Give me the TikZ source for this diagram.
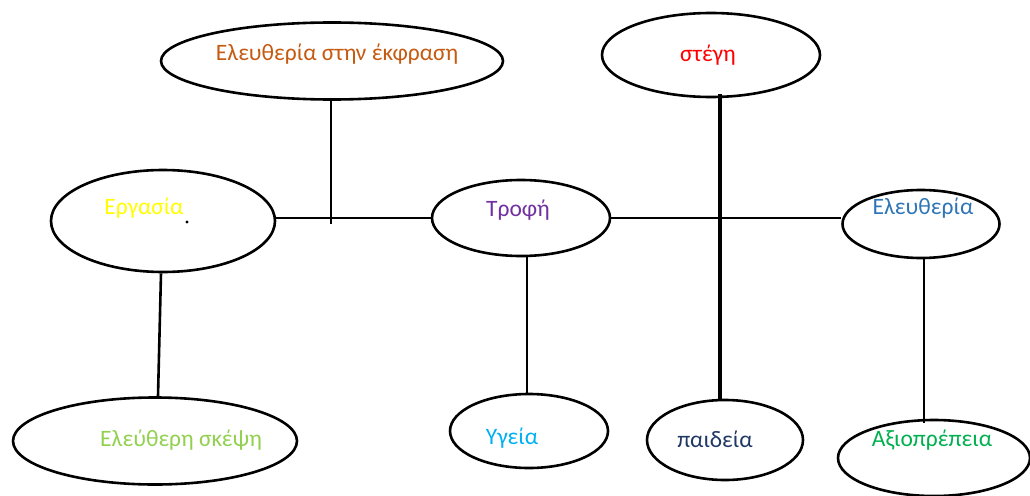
\documentclass[tikz,border=0pt]{standalone}
\usepackage{fontspec}
\setmainfont{Carlito}
\usetikzlibrary{shapes.geometric}
\definecolor{cExpr}{HTML}{C55A11}
\definecolor{cErg}{HTML}{FFFF00}
\definecolor{cTrofi}{HTML}{7030A0}
\definecolor{cStegi}{HTML}{FF0000}
\definecolor{cEleft}{HTML}{2E75B6}
\definecolor{cSkepsi}{HTML}{92D050}
\definecolor{cYgeia}{HTML}{00B0F0}
\definecolor{cPaid}{HTML}{203864}
\definecolor{cAxio}{HTML}{00B050}
\tikzset{
  oval/.style={ellipse, draw=black, line width=2.6pt, inner sep=0pt},
  lbl/.style={inner sep=0pt, font=\fontsize{23.5}{28}\selectfont},
  link/.style={draw=black, line width=2.6pt},
  boldlink/.style={draw=black, line width=3.8pt}
}
\begin{document}
\begin{tikzpicture}[x=1pt,y=-1pt]
\useasboundingbox (0,0) rectangle (1030,495);
% ellipses
\node[oval, minimum width=342pt, minimum height=77pt] (ekfr) at (332,61) {};
\node[oval, minimum width=224pt, minimum height=102pt] (erg) at (163,221) {};
\node[oval, minimum width=178pt, minimum height=76pt] (trofi) at (521,218) {};
\node[oval, minimum width=218pt, minimum height=84pt] (stegi) at (711,55) {};
\node[oval, minimum width=157pt, minimum height=68pt] (eleft) at (921,224) {};
\node[oval, minimum width=284pt, minimum height=87pt] (skepsi) at (155,441) {};
\node[oval, minimum width=158pt, minimum height=74pt] (ygeia) at (529,431) {};
\node[oval, minimum width=156pt, minimum height=80pt] (paid) at (725,440) {};
\node[oval, minimum width=192pt, minimum height=76pt] (axio) at (934,458) {};
% labels
\node[lbl, text=cExpr] (tExpr) at (337,54) {Ελευθερία στην έκφραση};
\node[lbl, text=cErg] (tErg) at (144,208) {Εργασία};
\node[lbl, text=cTrofi] (tTrofi) at (518,210) {Τροφή};
\node[lbl, text=cStegi] (tStegi) at (708,55) {στέγη};
\node[lbl, text=cEleft] (tEleft) at (923,208) {Ελευθερία};
\node[lbl, text=cSkepsi] (tSkepsi) at (181,440) {Ελεύθερη σκέψη};
\node[lbl, text=cYgeia] (tYgeia) at (512,438) {Υγεία};
\node[lbl, text=cPaid] (tPaid) at (715,439) {παιδεία};
\node[lbl, text=cAxio] (tAxio) at (932,440) {Αξιοπρέπεια};
\fill[black] (187,222) circle (1.6pt);
% connector helpers
\coordinate (j1) at (331,224);
\coordinate (ax1) at (720,0);
\coordinate (ax2) at (924,0);
\coordinate (ax3) at (527,0);
% connectors
\draw[link] (trofi.west -| erg.east) -- (trofi.west);
\draw[link] (ekfr.south -| j1) -- (j1);
\draw[link] (trofi.east) -- (trofi.east -| eleft.west);
\draw[boldlink] ([yshift=4pt]stegi.south -| ax1) -- (paid.north -| ax1);
\draw[link] (eleft.south -| ax2) -- ([yshift=-4pt]axio.north -| ax2);
\draw[link] (trofi.south -| ax3) -- (ygeia.north -| ax3);
\draw[link] ([xshift=-2pt]erg.south) -- ([xshift=3pt]skepsi.north);
\end{tikzpicture}
\end{document}
